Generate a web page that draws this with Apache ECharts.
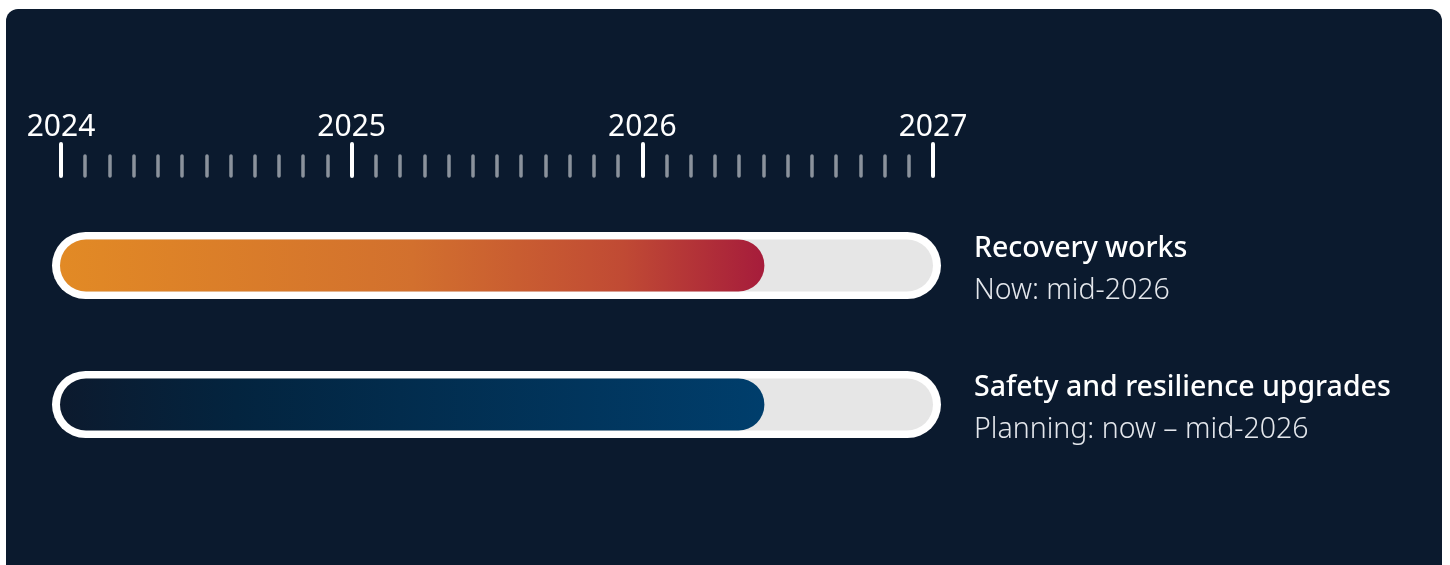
<!DOCTYPE html>
<html>
<head>
<meta charset="utf-8">
<style>
  html, body { margin: 0; padding: 0; background: #ffffff; }
  #chart { width: 1450px; height: 565px; }
</style>
<script src="https://cdn.jsdelivr.net/npm/echarts@6/dist/echarts.min.js"></script>
</head>
<body>
<div id="chart"></div>
<script>
// ---- data ----
const categories = ['Recovery works', 'Safety and resilience upgrades'];
const statusLabels = ['Now: mid-2026', 'Planning: now \u2013 mid-2026'];
const endValues = [2026.42, 2026.42];
const startYear = 2024;
const endYear = 2027;
const tickYears = [2024, 2025, 2026, 2027];

const gradients = [
  [{ offset: 0, color: '#e28a25' }, { offset: 0.5, color: '#d2702e' }, { offset: 0.8, color: '#c04a34' }, { offset: 1, color: '#a61c3b' }],
  [{ offset: 0, color: '#0c1a2e' }, { offset: 0.25, color: '#03243f' }, { offset: 1, color: '#003e6c' }]
];

const chart = echarts.init(document.getElementById('chart'), null, { renderer: 'canvas' });

const seriesData = categories.map((c, i) => [endValues[i], i]);

const option = {
  backgroundColor: '#ffffff',
  animation: false,
  graphic: [{
    type: 'rect',
    z: -10,
    shape: { x: 6, y: 9, width: 1436, height: 568, r: 12 },
    style: { fill: '#0b1a2e' }
  }],
  grid: [
    { left: 61, right: 517, top: 175, height: 1 },
    { left: 61, right: 517, top: 196, height: 278 }
  ],
  xAxis: [{
    gridIndex: 0,
    type: 'value',
    position: 'top',
    min: startYear,
    max: endYear,
    interval: 1,
    axisLine: { show: false },
    splitLine: { show: false },
    axisTick: { show: true, inside: false, length: 32, lineStyle: { color: '#ffffff', width: 4, cap: 'round' } },
    minorTick: { show: true, splitNumber: 12, length: 20, lineStyle: { color: '#8b929c', width: 3.5, cap: 'round' } },
    axisLabel: {
      show: true,
      margin: 33,
      color: '#ffffff',
      fontSize: 30,
      fontFamily: 'Noto Sans',
      formatter: function (v) { return tickYears.indexOf(v) >= 0 ? String(v) : ''; }
    }
  }, {
    gridIndex: 1,
    type: 'value',
    min: startYear,
    max: endYear,
    show: false
  }],
  yAxis: [{
    gridIndex: 0, type: 'value', show: false
  }, {
    gridIndex: 1,
    type: 'category',
    data: categories,
    inverse: true,
    show: false
  }],
  series: [{
    type: 'custom',
    xAxisIndex: 1,
    yAxisIndex: 1,
    data: seriesData,
    renderItem: function (params, api) {
      const idx = api.value(1);
      const p0 = api.coord([startYear, idx]);
      const p1 = api.coord([endYear, idx]);
      const pv = api.coord([api.value(0), idx]);
      const cy = p0[1];
      const outerH = 67, innerH = 52;
      const x0 = p0[0] - 1;
      const x1 = p1[0];
      return {
        type: 'group',
        children: [{
          type: 'rect',
          shape: { x: x0 - 8, y: cy - outerH / 2, width: (x1 + 8) - (x0 - 8), height: outerH, r: outerH / 2 },
          style: { fill: '#ffffff' }
        }, {
          type: 'rect',
          shape: { x: x0, y: cy - innerH / 2, width: x1 - x0, height: innerH, r: innerH / 2 },
          style: { fill: '#e6e6e6' }
        }, {
          type: 'rect',
          shape: { x: x0, y: cy - innerH / 2, width: pv[0] - x0, height: innerH, r: innerH / 2 },
          style: { fill: new echarts.graphic.LinearGradient(0, 0, 1, 0, gradients[idx]) }
        }, {
          type: 'text',
          x: x1 + 41,
          y: cy - 17,
          style: {
            text: categories[idx],
            fill: '#ffffff',
            fontSize: 28.5,
            fontWeight: 500,
            fontFamily: 'Noto Sans',
            verticalAlign: 'middle',
            align: 'left'
          }
        }, {
          type: 'text',
          x: x1 + 41,
          y: cy + 25,
          style: {
            text: statusLabels[idx],
            fill: '#e4e7ec',
            fontSize: 28.5,
            fontWeight: 300,
            fontFamily: 'Noto Sans',
            verticalAlign: 'middle',
            align: 'left'
          }
        }]
      };
    }
  }]
};
chart.setOption(option);
</script>
</body>
</html>
